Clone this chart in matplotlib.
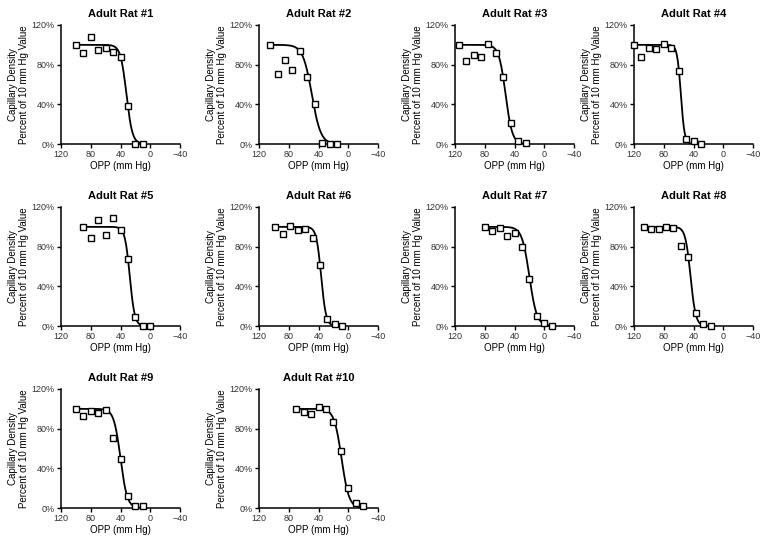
import matplotlib.pyplot as plt
import numpy as np
from matplotlib.ticker import FuncFormatter

plt.rcParams['font.family'] = ['Liberation Sans', 'DejaVu Sans']

# OPP (mm Hg) and capillary density (% of 10 mm Hg value) read per rat
opp_1 = [100, 90, 80, 70, 60, 50, 40, 30, 20, 10]
cd_1 = [100, 92, 108, 95, 97, 93, 88, 38, 0, 0]
opp_2 = [105, 95, 85, 75, 65, 55, 45, 35, 25, 15]
cd_2 = [100, 71, 85, 75, 94, 68, 40, 1, 0, 0]
opp_3 = [115, 105, 95, 85, 75, 65, 55, 45, 35, 25]
cd_3 = [100, 84, 90, 88, 101, 92, 68, 21, 3, 1]
opp_4 = [120, 110, 100, 90, 80, 70, 60, 50, 40, 30]
cd_4 = [100, 88, 97, 96, 101, 97, 74, 5, 3, 0]
opp_5 = [90, 80, 70, 60, 50, 40, 30, 20, 10, 0]
cd_5 = [100, 89, 107, 92, 109, 97, 68, 9, 0, 0]
opp_6 = [98, 88, 78, 68, 58, 48, 38, 28, 18, 8]
cd_6 = [100, 93, 101, 97, 98, 89, 62, 7, 2, 0]
opp_7 = [80, 70, 60, 50, 40, 30, 20, 10, 0, -10]
cd_7 = [100, 96, 99, 91, 94, 80, 47, 10, 3, 0]
opp_8 = [107, 97, 87, 77, 67, 57, 47, 37, 27, 17]
cd_8 = [100, 98, 98, 100, 99, 81, 70, 13, 2, 0]
opp_9 = [100, 90, 80, 70, 60, 50, 40, 30, 20, 10]
cd_9 = [100, 93, 98, 96, 99, 71, 49, 12, 2, 2]
opp_10 = [70, 60, 50, 40, 30, 20, 10, 0, -10, -20]
cd_10 = [100, 97, 95, 102, 100, 87, 57, 20, 5, 2]

# sigmoid fit parameters (midpoint, slope) per rat
fit_mid = [32, 49, 52, 57, 27.5, 36.4, 20, 44, 40, 9]
fit_slope = [4, 6, 4.5, 2.5, 3.3, 3.25, 5, 3.5, 4.5, 5]

opps = [opp_1, opp_2, opp_3, opp_4, opp_5, opp_6, opp_7, opp_8, opp_9, opp_10]
cds = [cd_1, cd_2, cd_3, cd_4, cd_5, cd_6, cd_7, cd_8, cd_9, cd_10]

W, H = 769, 548
fig = plt.figure(figsize=(W / 100, H / 100), dpi=100)

col_left = [61, 259, 455, 634]
row_top = [25, 207, 389]
aw, ah = 119, 119

for i in range(10):
    r, c = divmod(i, 4)
    left = col_left[c]
    top = row_top[r]
    ax = fig.add_axes([left / W, 1 - (top + ah) / H, aw / W, ah / H])

    x = np.array(opps[i])
    xs = np.linspace(x.max(), x.min(), 200)
    ys = 100 / (1 + np.exp((fit_mid[i] - xs) / fit_slope[i]))
    ax.plot(xs, ys, color='black', lw=1.3, zorder=2)
    ax.plot(x, cds[i], 's', ms=3.8, mfc='white', mec='black', mew=1.0,
            clip_on=False, zorder=3)

    ax.set_xlim(120, -40)
    ax.set_ylim(0, 120)
    ax.set_xticks([120, 80, 40, 0, -40])
    ax.set_yticks([0, 40, 80, 120])
    ax.yaxis.set_major_formatter(FuncFormatter(lambda v, p: '%d%%' % v))
    for s in ['top', 'right']:
        ax.spines[s].set_visible(False)
    for s in ['left', 'bottom']:
        ax.spines[s].set_linewidth(1.1)
    ax.tick_params(labelsize=6.5, length=3, width=1.0, pad=1.5,
                   labelcolor='#333333')
    ax.set_title('Adult Rat #%d' % (i + 1), fontsize=8, fontweight='bold',
                 pad=6)
    ax.set_xlabel('OPP (mm Hg)', fontsize=7, labelpad=1)
    ax.set_ylabel('Capillary Density\nPercent of 10 mm Hg Value', fontsize=7,
                  labelpad=2, linespacing=1.1)

fig.savefig('out.png', dpi=100)
